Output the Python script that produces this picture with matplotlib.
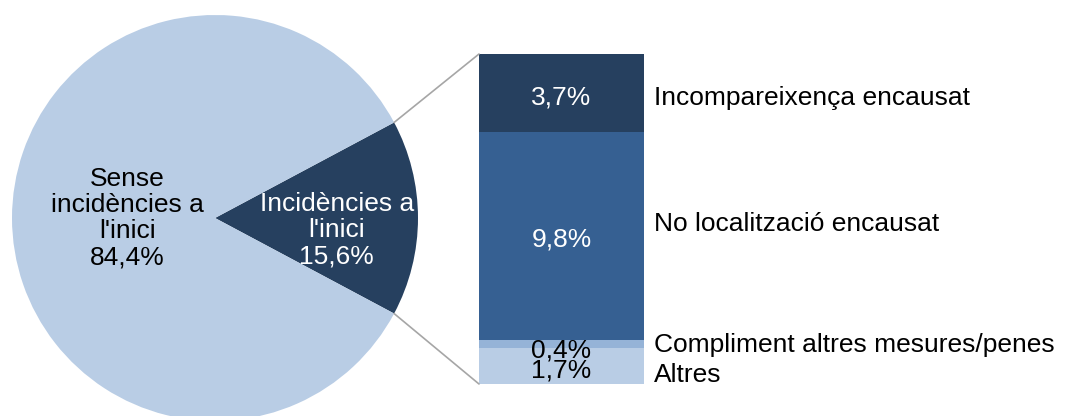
import numpy as np
import matplotlib.pyplot as plt
from matplotlib.patches import ConnectionPatch

# pie: share of cases with / without incidents at the start
pie_labels = ["Incidències a\nl'inici", "Sense\nincidències a\nl'inici"]
pie_values = [15.6, 84.4]

# breakdown of the incidents, stacked bottom to top
bar_labels = ["Altres", "Compliment altres mesures/penes",
              "No localització encausat", "Incompareixença encausat"]
bar_values = [1.7, 0.4, 9.8, 3.7]

DARK = '#26405f'
MID = '#366092'
PALE = '#95b3d7'
LIGHT = '#b9cde5'

plt.rcParams['font.family'] = ['Liberation Sans', 'DejaVu Sans']
FS = 19


def pct(v):
    return f'{v:.1f}%'.replace('.', ',')


fig = plt.figure(figsize=(10.75, 4.16), dpi=100)

# pie axes: centre (215, 218) px, radius 203 px
W, H = 1075, 416
cx, cy, r = 215, 218, 203
ax_pie = fig.add_axes([(cx - r) / W, (H - cy - r) / H, 2 * r / W, 2 * r / H])
start = -pie_values[0] * 3.6 / 2
wedges, _ = ax_pie.pie(pie_values, colors=[DARK, LIGHT], startangle=start,
                       radius=1, counterclock=True)
ax_pie.set_xlim(-1, 1)
ax_pie.set_ylim(-1, 1)
ax_pie.set_aspect('equal')
ax_pie.axis('off')

ax_pie.text(0.6, -0.06, f'{pie_labels[0]}\n{pct(pie_values[0])}',
            ha='center', va='center', color='white', fontsize=FS,
            linespacing=1.12)
ax_pie.text(-0.43, 0.0, f'{pie_labels[1]}\n{pct(pie_values[1])}',
            ha='center', va='center', color='black', fontsize=FS,
            linespacing=1.12)

# stacked bar of the incident slice
total = sum(bar_values)
ax_bar = fig.add_axes([479 / W, (H - 384) / H, 165 / W, 330 / H])
bar_colors = [LIGHT, PALE, MID, DARK]
text_colors = ['black', 'black', 'white', 'white']
value_shift = [-0.21, -0.31, -0.19, -0.19]
label_shift = [-0.44, -0.05, 0.56, -0.24]
bottom = 0
for val, lab, col, tcol, vs, ls in zip(bar_values, bar_labels, bar_colors,
                                       text_colors, value_shift, label_shift):
    ax_bar.bar(0, val, width=1, bottom=bottom, color=col, linewidth=0)
    mid = bottom + val / 2
    ax_bar.text(0, mid + vs, pct(val), ha='center', va='center',
                color=tcol, fontsize=FS)
    ax_bar.text(0.56, mid + ls, lab, ha='left', va='center',
                color='black', fontsize=FS, clip_on=False)
    bottom += val
ax_bar.set_xlim(-0.5, 0.5)
ax_bar.set_ylim(0, total)
ax_bar.axis('off')

# connector lines from the slice edges to the bar corners
theta = [start, start + pie_values[0] * 3.6]
for ang, y in zip(theta, [0, total]):
    a = np.deg2rad(ang)
    con = ConnectionPatch(xyA=(np.cos(a), np.sin(a)), coordsA=ax_pie.transData,
                          xyB=(-0.5, y), coordsB=ax_bar.transData,
                          color='#a6a6a6', linewidth=1.2)
    fig.add_artist(con)

fig.savefig('out.png', dpi=100)
